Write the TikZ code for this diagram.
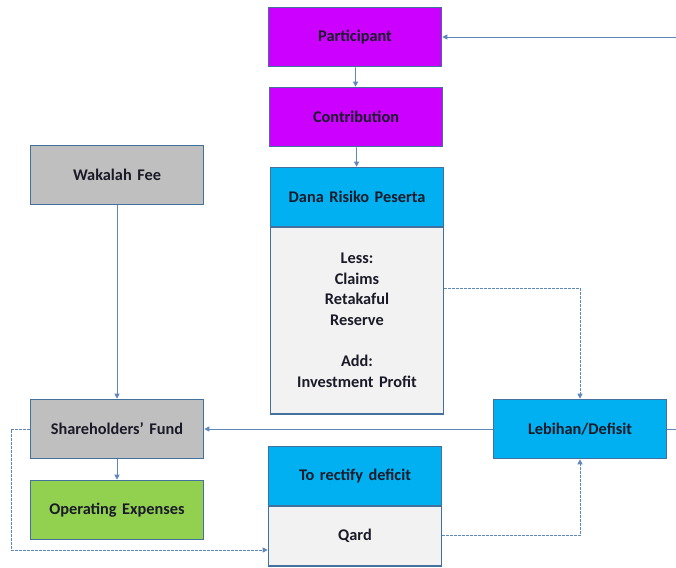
\documentclass[tikz,border=0pt]{standalone}
\usepackage{fontspec}
\setmainfont{Carlito}[WordSpace={1.5,1,1}]
\usetikzlibrary{arrows.meta}
\definecolor{edge}{HTML}{41719C}
\definecolor{wire}{HTML}{5E88BA}
\definecolor{violet}{HTML}{CC00FF}
\definecolor{sky}{HTML}{00B0F0}
\definecolor{greybox}{HTML}{BFBFBF}
\definecolor{pale}{HTML}{F2F2F2}
\definecolor{leaf}{HTML}{92D050}
\definecolor{ink}{HTML}{1A1A28}
\tikzset{
  box/.style={draw=edge, line width=1.6pt, minimum width=173pt, minimum height=59pt,
    inner sep=0pt, font=\bfseries\fontsize{16.3}{19}\selectfont, text=ink, align=center},
  flow/.style={draw=wire, line width=0.8pt, -{Triangle[length=5pt,width=5pt]}},
  dflow/.style={flow, dash pattern=on 2.5pt off 1.5pt},
  plain/.style={draw=wire, line width=0.8pt}
}
\begin{document}
\begin{tikzpicture}[x=1pt,y=-1pt]
\useasboundingbox (0,0) rectangle (676,567);

\node[box, fill=violet] (part) at (355,37) {Participant};
\node[box, fill=violet] (contr) at (356,117) {Contribution};
\node[box, fill=sky] (dana) at (357,197) {Dana Risiko Peserta};
\node[box, fill=pale, minimum height=187pt, anchor=north, font=\bfseries\fontsize{16.3}{20.6}\selectfont] (danabody) at (357,226)
  {Less:\\Claims\\Retakaful\\Reserve\\[20.6pt]Add:\\Investment Profit};
\node[box, fill=greybox] (wak) at (117,175) {Wakalah Fee};
\node[box, fill=greybox] (share) at (117,429) {Shareholders’ Fund};
\node[box, fill=leaf] (opex) at (117,510) {Operating Expenses};
\node[box, fill=sky] (rect) at (355,476) {To rectify deficit};
\node[box, fill=pale, minimum height=60pt, anchor=north] (qard) at (355,505) {Qard};
\node[box, fill=sky] (leb) at (580,429) {Lebihan/Defisit};

\coordinate (topin) at (676,37);
\coordinate (rightout) at (676,429);

% main flow
\draw[flow] (topin) -- (part.east);
\draw[flow] (part) -- (contr);
\draw[flow] (contr) -- (dana);
\draw[flow] (wak) -- (share);
\draw[flow] (share) -- (opex);
\draw[flow] (leb) -- (share);
\draw[plain] (leb.east) -- (rightout);

% surplus / deficit paths
\draw[dflow] (danabody.east |- 0,288) -| (leb.north);
\draw[dflow] (qard.east) -| (leb.south);
\draw[dflow] (share.west) -- (11,429) |- (qard.west |- 0,550);
\end{tikzpicture}
\end{document}
